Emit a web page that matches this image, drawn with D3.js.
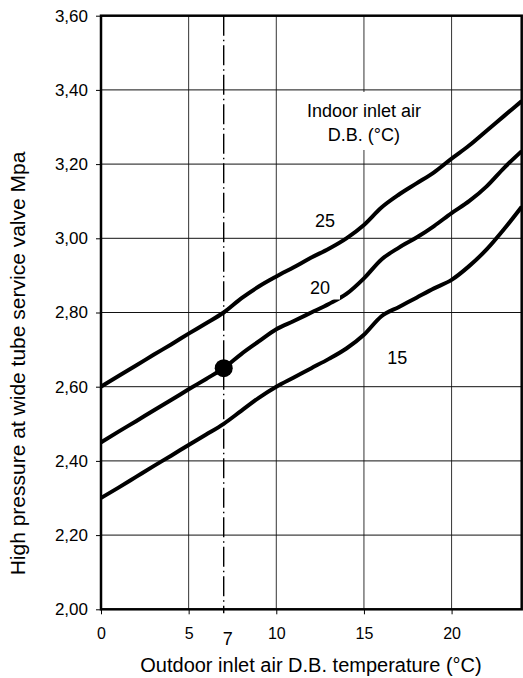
<!DOCTYPE html>
<html>
<head>
<meta charset="utf-8">
<script src="https://cdn.jsdelivr.net/npm/d3@7"></script>
<style>
  html, body { margin: 0; padding: 0; background: #fff; }
  svg { display: block; font-family: "Liberation Sans", Arial, sans-serif; }
</style>
</head>
<body>
<svg id="chart" width="523" height="678"></svg>
<script>
// outdoor temperature (°C) along the x axis
const temps = [0, 1, 2, 3, 4, 5, 6, 7, 8, 9, 10, 11, 12, 13, 14, 15, 16, 17, 18, 19, 20, 21, 22, 23, 24];

// high pressure (MPa) for indoor inlet air 25, 20 and 15 °C
const p25 = [2.60, 2.629, 2.657, 2.686, 2.714, 2.743, 2.771, 2.80, 2.838, 2.87, 2.897, 2.922, 2.948,
             2.972, 3.00, 3.036, 3.083, 3.118, 3.148, 3.178, 3.215, 3.25, 3.29, 3.33, 3.37];
const p20 = [2.45, 2.479, 2.507, 2.536, 2.564, 2.593, 2.621, 2.65, 2.688, 2.722, 2.755, 2.777, 2.80,
             2.823, 2.85, 2.892, 2.943, 2.975, 3.002, 3.033, 3.068, 3.10, 3.14, 3.19, 3.235];
const p15 = [2.30, 2.328, 2.357, 2.386, 2.414, 2.443, 2.471, 2.50, 2.535, 2.57, 2.60, 2.625, 2.65,
             2.675, 2.703, 2.74, 2.79, 2.815, 2.84, 2.865, 2.888, 2.925, 2.97, 3.025, 3.085];

const seriesNames = ["25", "20", "15"];
const xTicks = [0, 5, 10, 15, 20];
const yTicks = [2.0, 2.2, 2.4, 2.6, 2.8, 3.0, 3.2, 3.4, 3.6];
const refTemp = 7;      // dash-dot reference line
const refPressure = 2.65;

const svg = d3.select("#chart");
const mLeft = 101, mRight = 521.7, mTop = 15.7, mBottom = 609.3;

const x = d3.scaleLinear().domain([0, 24]).range([mLeft, mRight]);
const y = d3.scaleLinear().domain([2.0, 3.6]).range([mBottom, mTop]);

const fmt = v => d3.format(".2f")(v).replace(".", ",");

// grid
svg.append("g")
  .selectAll("line")
  .data(xTicks.slice(1))
  .join("line")
  .attr("x1", d => x(d)).attr("x2", d => x(d))
  .attr("y1", mTop).attr("y2", mBottom)
  .attr("stroke", "#333").attr("stroke-width", 1);

svg.append("g")
  .selectAll("line")
  .data(yTicks.slice(1, -1))
  .join("line")
  .attr("x1", mLeft).attr("x2", mRight)
  .attr("y1", d => y(d)).attr("y2", d => y(d))
  .attr("stroke", "#111").attr("stroke-width", 1);

// axes
const yAxis = svg.append("g")
  .attr("transform", "translate(" + mLeft + ",0)")
  .call(d3.axisLeft(y).tickValues(yTicks).tickSize(5).tickPadding(8).tickFormat(fmt));
yAxis.select(".domain").remove();
yAxis.selectAll("text").attr("font-size", 17).attr("fill", "#000")
  .attr("font-family", "'Liberation Sans', Arial, sans-serif");
yAxis.selectAll("line").attr("stroke", "#000");

const xAxis = svg.append("g")
  .attr("transform", "translate(0," + mBottom + ")")
  .call(d3.axisBottom(x).tickValues(xTicks).tickSize(5).tickPadding(13).tickFormat(d3.format("d")));
xAxis.select(".domain").remove();
xAxis.selectAll("text").attr("font-size", 16).attr("fill", "#000")
  .attr("font-family", "'Liberation Sans', Arial, sans-serif");
xAxis.selectAll("line").attr("stroke", "#000");

// reference line at 7 °C
svg.append("line")
  .attr("x1", x(refTemp)).attr("x2", x(refTemp))
  .attr("y1", mTop).attr("y2", mBottom + 4)
  .attr("stroke", "#000").attr("stroke-width", 1.4)
  .attr("stroke-dasharray", "20,4,1.5,4");

svg.append("text")
  .attr("x", x(refTemp) - 1).attr("y", 645)
  .attr("font-size", 18)
  .text(refTemp);

// curves
svg.append("clipPath").attr("id", "plot")
  .append("rect")
  .attr("x", mLeft).attr("y", mTop)
  .attr("width", mRight - mLeft).attr("height", mBottom - mTop);

const line = d3.line()
  .x((d, i) => x(temps[i]))
  .y(d => y(d))
  .curve(d3.curveMonotoneX);

svg.append("g")
  .attr("clip-path", "url(#plot)")
  .selectAll("path")
  .data([p25, p20, p15])
  .join("path")
  .attr("d", line)
  .attr("fill", "none")
  .attr("stroke", "#000")
  .attr("stroke-width", 4)
  .attr("stroke-linejoin", "round");

// operating point
svg.append("circle")
  .attr("cx", x(refTemp)).attr("cy", y(refPressure))
  .attr("r", 9).attr("fill", "#000");

// curve labels (the "20" box nicks the curve just like the original)
const labelPos = [[12.78, 3.03], [12.5, 2.85], [16.9, 2.66]];
const labels = svg.append("g").attr("font-size", 18);
labels.append("rect")
  .attr("x", 306).attr("y", 276)
  .attr("width", 34).attr("height", 23.5)
  .attr("fill", "#fff");
labels.selectAll("text")
  .data(seriesNames)
  .join("text")
  .attr("x", (d, i) => x(labelPos[i][0]))
  .attr("y", (d, i) => y(labelPos[i][1]))
  .attr("text-anchor", "middle")
  .text(d => d);

// legend title
const legend = svg.append("g").attr("font-size", 18).attr("text-anchor", "middle");
legend.append("rect")
  .attr("x", x(15) - 61).attr("y", 92)
  .attr("width", 122).attr("height", 58)
  .attr("fill", "#fff");
legend.append("text").attr("x", x(15)).attr("y", 117).text("Indoor inlet air");
legend.append("text").attr("x", x(15)).attr("y", 141).text("D.B. (°C)");

// frame
svg.append("rect")
  .attr("x", mLeft).attr("y", mTop)
  .attr("width", mRight - mLeft).attr("height", mBottom - mTop)
  .attr("fill", "none").attr("stroke", "#000").attr("stroke-width", 2.5);

// axis titles
svg.append("text")
  .attr("x", 311).attr("y", 672)
  .attr("text-anchor", "middle")
  .attr("font-size", 20)
  .text("Outdoor inlet air D.B. temperature (°C)");

svg.append("text")
  .attr("transform", "translate(25,363.5) rotate(-90)")
  .attr("text-anchor", "middle")
  .attr("font-size", 21)
  .text("High pressure at wide tube service valve Mpa");
</script>
</body>
</html>
